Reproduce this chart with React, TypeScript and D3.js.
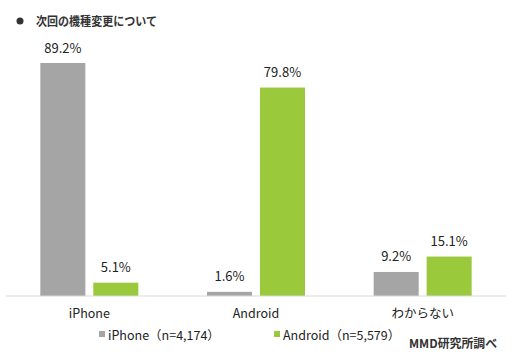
import React from "react";
import * as d3 from "d3";

const categories = ["iPhone", "Android", "わからない"];
const seriesNames = ["iPhone（n=4,174）", "Android（n=5,579）"];
const iphoneValues = [89.2, 1.6, 9.2];
const androidValues = [5.1, 79.8, 15.1];
const colors = ["#a5a5a5", "#9bc93c"];
const title = "次回の機種変更について";
const source = "MMD研究所調べ";

const W = 518, H = 356;
const font = "'Noto Sans CJK JP', 'DejaVu Sans', sans-serif";

export default function App() {
  const x0 = d3.scaleBand().domain(categories).range([6, 506]).paddingInner(0).paddingOuter(0);
  const groupW = 98;
  const x1 = d3.scaleBand().domain(["0", "1"]).range([0, groupW]).paddingInner(0.15);
  const y = d3.scaleLinear().domain([0, 100]).range([296, 296 - 261.2]);
  const series = [iphoneValues, androidValues];
  return (
    <svg width={W} height={H} style={{ position: "absolute", left: 0, top: 0, fontFamily: font }}>
      <rect width={W} height={H} fill="#fff" />
      <circle cx={20} cy={21} r={3.5} fill="#333" />
      <text x={36} y={25.5} fontSize={12} fontWeight="bold" fill="#333" textLength={121} lengthAdjust="spacingAndGlyphs">{title}</text>
      {categories.map((c, i) => {
        const gx = x0(c)! + (x0.bandwidth() - groupW) / 2;
        return (
          <g key={c}>
            {series.map((s, j) => {
              const bx = gx + x1(String(j))!;
              const v = s[i];
              return (
                <g key={j}>
                  <rect x={bx} y={y(v)} width={x1.bandwidth()} height={296 - y(v)} fill={colors[j]} />
                  <text x={bx + x1.bandwidth() / 2} y={y(v) - 10.5} textAnchor="middle" fontSize={13} fill="#222">
                    {v.toFixed(1)}%
                  </text>
                </g>
              );
            })}
            <text x={x0(c)! + x0.bandwidth() / 2} y={318} textAnchor="middle" fontSize={12.5} fill="#222">{c}</text>
          </g>
        );
      })}
      <line x1={6} x2={506} y1={296} y2={296} stroke="#d9d9d9" strokeWidth={1} />
      {seriesNames.map((n, j) => {
        const lx = [99, 274][j];
        return (
          <g key={n}>
            <rect x={lx} y={331} width={6} height={6} fill={colors[j]} />
            <text x={lx + 9} y={339.5} fontSize={12.5} fill="#222">{n}</text>
          </g>
        );
      })}
      <text x={409} y={348} fontSize={12} fontWeight="bold" fill="#333" textLength={88} lengthAdjust="spacingAndGlyphs">{source}</text>
    </svg>
  );
}
